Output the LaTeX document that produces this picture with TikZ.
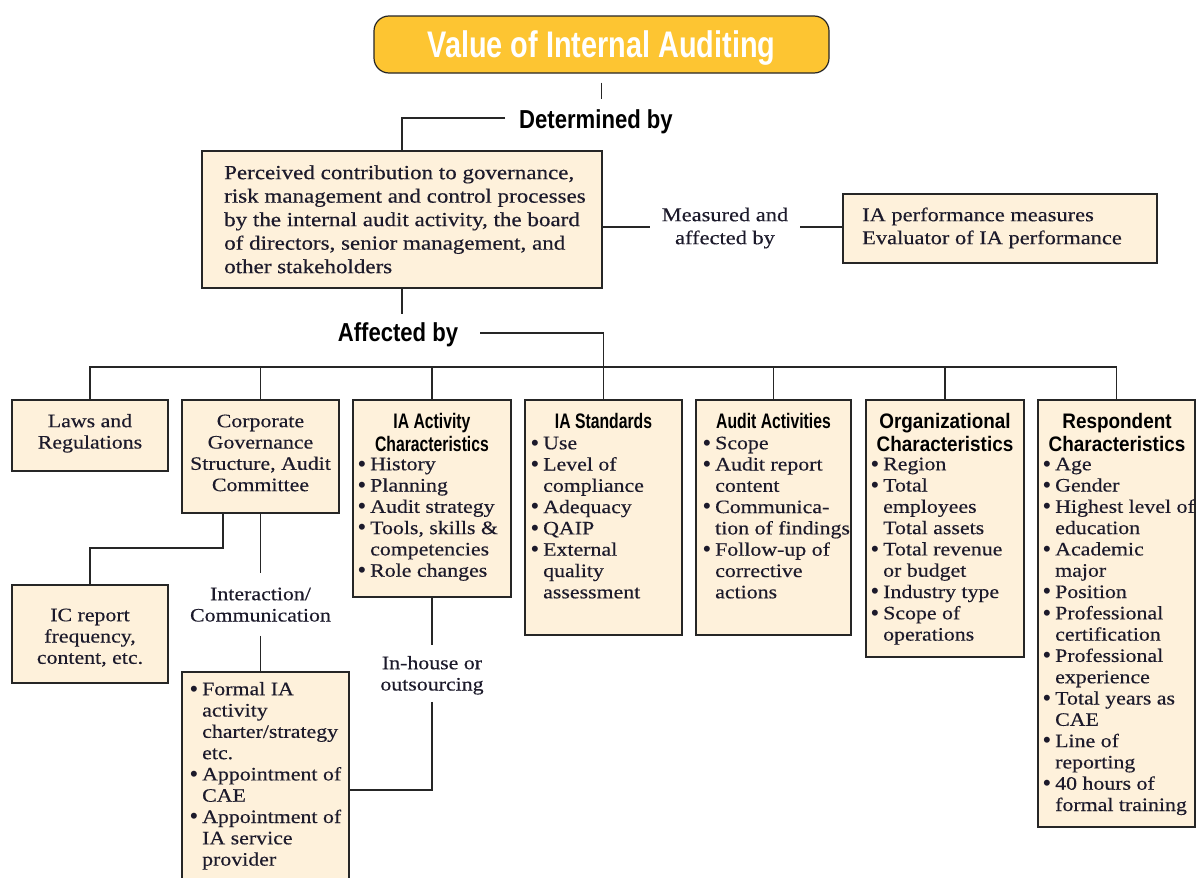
\documentclass[tikz,border=0pt]{standalone}
\usepackage{fontspec}
\setmainfont{Liberation Serif}[FakeStretch=1.15,FakeBold=0.35]
\newfontfamily\hfa{Liberation Sans}[FakeStretch=0.75]
\newfontfamily\hfb{Liberation Sans}[FakeStretch=0.9]
\newfontfamily\hfc{Liberation Sans}[FakeStretch=0.85]
\newfontfamily\hft{Liberation Sans}[FakeStretch=0.78]
\newfontfamily\bulfont{Liberation Sans}
\definecolor{cream}{HTML}{FEF1DB}
\definecolor{edge}{HTML}{262626}
\definecolor{gold}{HTML}{FDC532}
\definecolor{ink}{HTML}{1C1A2B}
\newcommand{\bl}{\makebox[12pt][l]{\smash{\raisebox{-0.8pt}{\bulfont\fontsize{22}{0}\selectfont\textbullet}}}}
\newcommand{\il}{\hspace*{12pt}}
\tikzset{
  bx/.style={draw=edge, line width=1.9pt, fill=cream, anchor=north west, inner sep=0pt, outer sep=0pt},
  ln/.style={draw=edge, line width=1.9pt},
  body/.style={inner sep=0pt, text=ink, font=\fontsize{19}{21.3}\selectfont},
  lst/.style={body, align=left, anchor=north west},
  ctr/.style={body, align=center, anchor=north},
  lbl/.style={inner sep=0pt, text=ink, font=\fontsize{19.5}{23}\selectfont},
  hd/.style={inner sep=0pt, text=black, align=center, anchor=north, font=\hfa\bfseries\fontsize{21}{21.3}\selectfont},
  hdb/.style={inner sep=0pt, text=black, align=center, anchor=north, font=\hfb\bfseries\fontsize{21}{21.3}\selectfont},
  big/.style={inner sep=0pt, text=black, anchor=base, font=\hfc\bfseries\fontsize{26}{30}\selectfont},
  titlebox/.style={draw=edge, line width=1.2pt, fill=gold, rounded corners=15pt, minimum width=455pt, minimum height=57pt, inner sep=0pt, text=white, text depth=0pt, font=\hft\bfseries\fontsize{37}{42}\selectfont}
}
\begin{document}
\begin{tikzpicture}[x=1pt,y=-1pt]
\useasboundingbox (0,0) rectangle (1197,878);
\clip (0,0) rectangle (1197,878);
\fill[white] (0,0) rectangle (1197,878);

% title
\node[titlebox] (title) at (601.5,44.5) {Value of Internal Auditing};
\node[big] (det) at (596,128) {Determined by};

% top boxes
\node[bx, minimum width=400pt, minimum height=137pt] (box1) at (202,151) {};
\node[lbl, align=left, anchor=north west, font=\fontsize{20}{23.5}\selectfont] (box1t) at (224,162.5) {\strut Perceived contribution to governance,\\risk management and control processes\\by the internal audit activity, the board\\of directors, senior management, and\\other stakeholders};
\node[bx, minimum width=314pt, minimum height=69pt] (box2) at (843,194) {};
\node[lbl, align=left, anchor=north west] (box2t) at (862,204.9) {\strut IA performance measures\\Evaluator of IA performance};
\node[lbl, align=center, anchor=north] (meas) at (725,204.9) {\strut Measured and\\affected by};

\node[big] (aff) at (398,341.5) {Affected by};

% second row boxes
\node[bx, minimum width=156pt, minimum height=71pt] (laws) at (12,400) {};
\node[bx, minimum width=157pt, minimum height=113pt] (corp) at (182,400) {};
\node[bx, minimum width=158pt, minimum height=197pt] (act) at (353,400) {};
\node[bx, minimum width=157pt, minimum height=235pt] (stand) at (525,400) {};
\node[bx, minimum width=155pt, minimum height=235pt] (audit) at (696,400) {};
\node[bx, minimum width=158pt, minimum height=257pt] (org) at (866,400) {};
\node[bx, minimum width=157pt, minimum height=427pt] (resp) at (1038,400) {};
\node[bx, minimum width=156pt, minimum height=98pt] (ic) at (12,585) {};
\node[bx, minimum width=167pt, minimum height=230pt] (form) at (182,672) {};

% texts
\node[ctr] (lawst) at (90,412.1) {\strut Laws and\\Regulations};
\node[ctr] (corpt) at (260.5,412.1) {\strut Corporate\\Governance\\Structure, Audit\\Committee};
\node[ctr] (ict) at (90,606.1) {\strut IC report\\frequency,\\content, etc.};

\node[hd] (acth) at (432,413.1) {\strut IA Activity\\Characteristics};
\node[lst] (actl) at (358,455.1) {\strut\bl History\\\bl Planning\\\bl Audit strategy\\\bl Tools, skills \&\\\il competencies\\\bl Role changes};

\node[hd] (standh) at (603.5,413.1) {\strut IA Standards};
\node[lst] (standl) at (531,434.1) {\strut\bl Use\\\bl Level of\\\il compliance\\\bl Adequacy\\\bl QAIP\\\bl External\\\il quality\\\il assessment};

\node[hd] (audith) at (773.5,413.1) {\strut Audit Activities};
\node[lst] (auditl) at (703,434.1) {\strut\bl Scope\\\bl Audit report\\\il content\\\bl Communica-\\\il tion of findings\\\bl Follow-up of\\\il corrective\\\il actions};

\node[hdb] (orgh) at (945,413.1) {\strut Organizational\\Characteristics};
\node[lst] (orgl) at (871,455.1) {\strut\bl Region\\\bl Total\\\il employees\\\il Total assets\\\bl Total revenue\\\il or budget\\\bl Industry type\\\bl Scope of\\\il operations};

\node[hdb] (resph) at (1117,413.1) {\strut Respondent\\Characteristics};
\node[lst] (respl) at (1043,455.1) {\strut\bl Age\\\bl Gender\\\bl Highest level of\\\il education\\\bl Academic\\\il major\\\bl Position\\\bl Professional\\\il certification\\\bl Professional\\\il experience\\\bl Total years as\\\il CAE\\\bl Line of\\\il reporting\\\bl 40 hours of\\\il formal training};

\node[lst] (forml) at (190,680.1) {\strut\bl Formal IA\\\il activity\\\il charter/strategy\\\il etc.\\\bl Appointment of\\\il CAE\\\bl Appointment of\\\il IA service\\\il provider};

\node[ctr] (inter) at (260.5,585.1) {\strut Interaction/\\Communication};
\node[ctr] (inh) at (432,654.1) {\strut In-house or\\outsourcing};

% connectors
\draw[ln] ([yshift=-9pt]title.south) -- ([yshift=-25pt]title.south);
\draw[ln] ([xshift=-14pt,yshift=3pt]det.west) -| (box1.north);
\draw[ln] (box1.east |- meas.west) -- ([xshift=-12pt]meas.west);
\draw[ln] ([xshift=12pt]meas.east) -- (box2.west |- meas.east);
\draw[ln] (box1.south) -- ++(0,26);
\draw[ln] ([xshift=22pt,yshift=2pt]aff.east) -| (stand.north);

\coordinate (bus) at (0,367);
\draw[ln] (laws.north) |- (bus -| resp.north) -- (resp.north);
\foreach \n in {corp,act,stand,audit,org} \draw[ln] (\n.north) -- (\n.north |- bus);

\draw[ln] ([xshift=-37.5pt]corp.south) -- ++(0,35) -| (ic.north);
\draw[ln] (corp.south) -- ([yshift=12pt]inter.north);
\draw[ln] ([yshift=-14pt]inter.south) -- (form.north -| inter.south);

\coordinate (hz) at (0,790);
\draw[ln] (act.south) -- ([yshift=9pt]inh.north);
\draw[ln] ([yshift=-7pt]inh.south) |- (form.east |- hz);
\end{tikzpicture}
\end{document}
